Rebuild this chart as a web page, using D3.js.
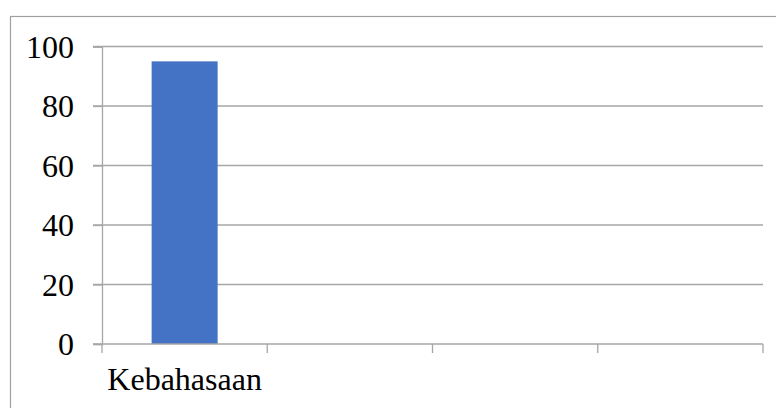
<!DOCTYPE html>
<html>
<head>
<meta charset="utf-8">
<script src="https://cdn.jsdelivr.net/npm/d3@7"></script>
<style>
  body { margin: 0; background: #fff; }
  svg text { font-family: "Liberation Serif", "Times New Roman", serif; fill: #000; }
</style>
</head>
<body>
<div id="chart"></div>
<script>
// chart data
var categories = ["Kebahasaan", "c2", "c3", "c4"];
var categoryLabels = ["Kebahasaan", "", "", ""];
var values = [95, null, null, null];
var yTicks = [0, 20, 40, 60, 80, 100];

var W = 776, H = 408;
var margin = {top: 46.5, right: 13, bottom: 64, left: 102};

var svg = d3.select("#chart").append("svg")
    .attr("width", W)
    .attr("height", H);

// outer frame (top and left visible)
svg.append("rect")
    .attr("x", 10.5).attr("y", 16.5)
    .attr("width", W).attr("height", H)
    .style("fill", "none")
    .style("stroke", "#a0a0a0")
    .style("stroke-width", 1.2);

var x = d3.scaleBand()
    .domain(categories)
    .range([margin.left, W - margin.right])
    .paddingInner(0)
    .paddingOuter(0);

var y = d3.scaleLinear()
    .domain([0, 100])
    .range([H - margin.bottom, margin.top]);

// gridlines
svg.append("g")
    .selectAll("line")
    .data(yTicks.filter(function(d){ return d > 0; }))
    .enter().append("line")
    .attr("x1", margin.left - 9)
    .attr("x2", W - margin.right)
    .attr("y1", function(d){ return y(d); })
    .attr("y2", function(d){ return y(d); })
    .style("stroke", "#a6a6a6")
    .style("stroke-width", 1.3);

// y axis
var yAxis = svg.append("g")
    .attr("transform", "translate(" + margin.left + ",0)")
    .call(d3.axisLeft(y).tickValues(yTicks).tickSize(9).tickPadding(19));
yAxis.select(".domain").style("stroke", "#a6a6a6").style("stroke-width", 1.3);
yAxis.selectAll(".tick line").style("stroke", "#a6a6a6").style("stroke-width", 1.3);
yAxis.selectAll(".tick text")
    .style("font-size", "32px")
    .style("font-family", "'Liberation Serif', serif")
    .attr("dy", "0.34em");

// bars
var bw = 66;
svg.append("g")
    .selectAll("rect")
    .data(values.map(function(v, i){ return {c: categories[i], v: v}; }).filter(function(d){ return d.v != null; }))
    .enter().append("rect")
    .attr("x", function(d){ return x(d.c) + (x.bandwidth() - bw) / 2; })
    .attr("width", bw)
    .attr("y", function(d){ return y(d.v); })
    .attr("height", function(d){ return y(0) - y(d.v); })
    .style("fill", "#4472C4");

// x axis
var xAxis = svg.append("g")
    .attr("transform", "translate(0," + y(0) + ")");
xAxis.append("line")
    .attr("x1", margin.left - 9).attr("x2", W - margin.right)
    .style("stroke", "#a6a6a6").style("stroke-width", 1.3);
var edges = categories.map(function(c){ return x(c); }).concat([x.range()[1]]);
xAxis.selectAll(".xt")
    .data(edges)
    .enter().append("line")
    .attr("class", "xt")
    .attr("x1", function(d){ return d; })
    .attr("x2", function(d){ return d; })
    .attr("y1", 0).attr("y2", 9)
    .style("stroke", "#a6a6a6").style("stroke-width", 1.3);
xAxis.selectAll(".xl")
    .data(categories)
    .enter().append("text")
    .attr("class", "xl")
    .attr("x", function(d){ return x(d) + x.bandwidth() / 2; })
    .attr("y", 46)
    .attr("text-anchor", "middle")
    .style("font-size", "32px")
    .text(function(d, i){ return categoryLabels[i]; });
</script>
</body>
</html>
